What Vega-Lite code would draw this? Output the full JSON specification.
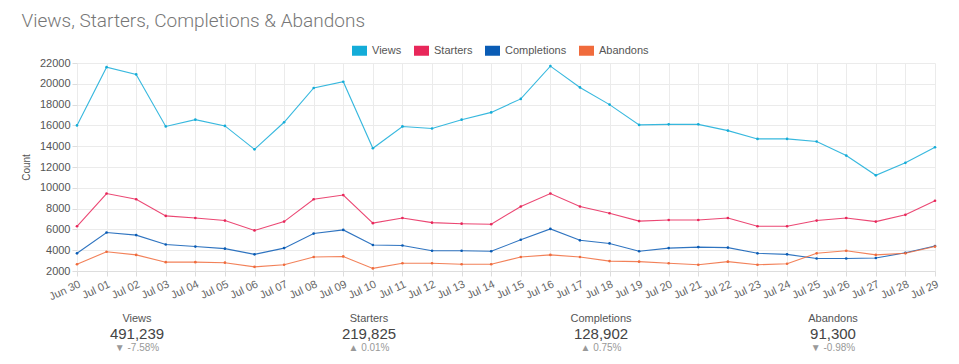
{
  "$schema": "https://vega.github.io/schema/vega-lite/v6.json",
  "padding": {"left": 21, "top": 12, "right": 10, "bottom": 5},
  "background": "white",
  "title": {"text": "Views, Starters, Completions & Abandons", "anchor": "start", "font": "Roboto", "fontWeight": 300, "fontSize": 19, "color": "#777", "offset": 14},
  "datasets": {
    "daily": [
      {"day": "Jun 30", "Views": 16000, "Starters": 6300, "Completions": 3700, "Abandons": 2650},
      {"day": "Jul 01", "Views": 21600, "Starters": 9450, "Completions": 5700, "Abandons": 3850},
      {"day": "Jul 02", "Views": 20900, "Starters": 8900, "Completions": 5450, "Abandons": 3550},
      {"day": "Jul 03", "Views": 15900, "Starters": 7300, "Completions": 4550, "Abandons": 2850},
      {"day": "Jul 04", "Views": 16550, "Starters": 7100, "Completions": 4350, "Abandons": 2850},
      {"day": "Jul 05", "Views": 15950, "Starters": 6850, "Completions": 4150, "Abandons": 2800},
      {"day": "Jul 06", "Views": 13700, "Starters": 5900, "Completions": 3600, "Abandons": 2400},
      {"day": "Jul 07", "Views": 16300, "Starters": 6750, "Completions": 4200, "Abandons": 2600},
      {"day": "Jul 08", "Views": 19600, "Starters": 8900, "Completions": 5600, "Abandons": 3350},
      {"day": "Jul 09", "Views": 20200, "Starters": 9300, "Completions": 5950, "Abandons": 3400},
      {"day": "Jul 10", "Views": 13800, "Starters": 6600, "Completions": 4500, "Abandons": 2250},
      {"day": "Jul 11", "Views": 15900, "Starters": 7100, "Completions": 4450, "Abandons": 2750},
      {"day": "Jul 12", "Views": 15700, "Starters": 6650, "Completions": 3950, "Abandons": 2750},
      {"day": "Jul 13", "Views": 16550, "Starters": 6550, "Completions": 3950, "Abandons": 2650},
      {"day": "Jul 14", "Views": 17250, "Starters": 6500, "Completions": 3900, "Abandons": 2650},
      {"day": "Jul 15", "Views": 18550, "Starters": 8200, "Completions": 5000, "Abandons": 3350},
      {"day": "Jul 16", "Views": 21700, "Starters": 9450, "Completions": 6050, "Abandons": 3550},
      {"day": "Jul 17", "Views": 19650, "Starters": 8200, "Completions": 4950, "Abandons": 3350},
      {"day": "Jul 18", "Views": 18000, "Starters": 7550, "Completions": 4650, "Abandons": 2950},
      {"day": "Jul 19", "Views": 16050, "Starters": 6800, "Completions": 3900, "Abandons": 2900},
      {"day": "Jul 20", "Views": 16100, "Starters": 6900, "Completions": 4200, "Abandons": 2750},
      {"day": "Jul 21", "Views": 16100, "Starters": 6900, "Completions": 4300, "Abandons": 2600},
      {"day": "Jul 22", "Views": 15500, "Starters": 7100, "Completions": 4250, "Abandons": 2900},
      {"day": "Jul 23", "Views": 14700, "Starters": 6300, "Completions": 3700, "Abandons": 2600},
      {"day": "Jul 24", "Views": 14700, "Starters": 6300, "Completions": 3600, "Abandons": 2700},
      {"day": "Jul 25", "Views": 14450, "Starters": 6850, "Completions": 3200, "Abandons": 3700},
      {"day": "Jul 26", "Views": 13100, "Starters": 7100, "Completions": 3200, "Abandons": 3950},
      {"day": "Jul 27", "Views": 11200, "Starters": 6750, "Completions": 3250, "Abandons": 3550},
      {"day": "Jul 28", "Views": 12400, "Starters": 7400, "Completions": 3750, "Abandons": 3700},
      {"day": "Jul 29", "Views": 13900, "Starters": 8750, "Completions": 4400, "Abandons": 4350}
    ],
    "summary": [
      {"metric": "Views", "row": "label", "text": "Views"},
      {"metric": "Views", "row": "value", "text": "491,239"},
      {"metric": "Views", "row": "change", "text": "▼ -7.58%"},
      {"metric": "Starters", "row": "label", "text": "Starters"},
      {"metric": "Starters", "row": "value", "text": "219,825"},
      {"metric": "Starters", "row": "change", "text": "▲ 0.01%"},
      {"metric": "Completions", "row": "label", "text": "Completions"},
      {"metric": "Completions", "row": "value", "text": "128,902"},
      {"metric": "Completions", "row": "change", "text": "▲ 0.75%"},
      {"metric": "Abandons", "row": "label", "text": "Abandons"},
      {"metric": "Abandons", "row": "value", "text": "91,300"},
      {"metric": "Abandons", "row": "change", "text": "▼ -0.98%"}
    ]
  },
  "vconcat": [
    {
      "width": 858,
      "height": 208,
      "data": {"name": "daily"},
      "transform": [{"fold": ["Views", "Starters", "Completions", "Abandons"], "as": ["series", "count"]}],
      "encoding": {
        "x": {
          "field": "day", "type": "ordinal", "sort": null,
          "scale": {"type": "point", "padding": 0},
          "axis": {"title": null, "labelAngle": -25, "labelAlign": "right", "labelBaseline": "top", "grid": true, "gridColor": "#ebebeb", "tickColor": "#ddd", "domainColor": "#ddd", "labelColor": "#666", "labelFontSize": 11, "labelPadding": 2, "tickSize": 5}
        },
        "y": {
          "field": "count", "type": "quantitative",
          "scale": {"domain": [2000, 22000], "nice": false, "zero": false},
          "axis": {"title": "Count", "values": [2000, 4000, 6000, 8000, 10000, 12000, 14000, 16000, 18000, 20000, 22000], "format": "d", "gridColor": "#ebebeb", "domain": false, "tickColor": "#ddd", "tickSize": 5, "labelColor": "#555", "labelFontSize": 11, "titleColor": "#555", "titleFontWeight": "normal", "titleFontSize": 10, "titlePadding": 8}
        },
        "color": {
          "field": "series", "type": "nominal",
          "scale": {"domain": ["Views", "Starters", "Completions", "Abandons"], "range": ["#14acd8", "#e8275a", "#0a5cb5", "#f06b3c"]},
          "legend": {"title": null, "orient": "none", "legendX": 277, "legendY": -18, "direction": "horizontal", "symbolType": "M-1.5,-1H1.5V1H-1.5Z", "symbolSize": 100, "symbolOpacity": 1, "symbolStrokeWidth": 0, "labelFontSize": 11, "labelColor": "#555", "labelOffset": 7, "columnPadding": 12}
        }
      },
      "layer": [
        {"mark": {"type": "line", "strokeWidth": 1.1, "opacity": 0.85}},
        {"mark": {"type": "point", "filled": true, "size": 7, "opacity": 1}}
      ]
    },
    {
      "width": 858,
      "height": 29,
      "data": {"name": "summary"},
      "mark": {"type": "text", "baseline": "middle", "align": "center"},
      "encoding": {
        "x": {"field": "metric", "type": "nominal", "sort": null, "scale": {"type": "band", "paddingInner": 0, "paddingOuter": 0, "range": [-56, 872]}, "axis": null},
        "y": {"field": "row", "type": "nominal", "sort": null, "scale": {"type": "point", "padding": 0, "domain": ["label", "value", "change"]}, "axis": null},
        "text": {"field": "text"},
        "size": {"field": "row", "type": "nominal", "scale": {"type": "ordinal", "domain": ["label", "value", "change"], "range": [11, 15, 10]}, "legend": null},
        "color": {"field": "row", "type": "nominal", "scale": {"domain": ["label", "value", "change"], "range": ["#555", "#444", "#999"]}, "legend": null}
      }
    }
  ],
  "spacing": 11,
  "resolve": {"scale": {"color": "independent", "size": "independent", "x": "independent", "y": "independent"}, "legend": {"color": "independent"}},
  "config": {"view": {"stroke": null}, "font": "Liberation Sans"}
}
